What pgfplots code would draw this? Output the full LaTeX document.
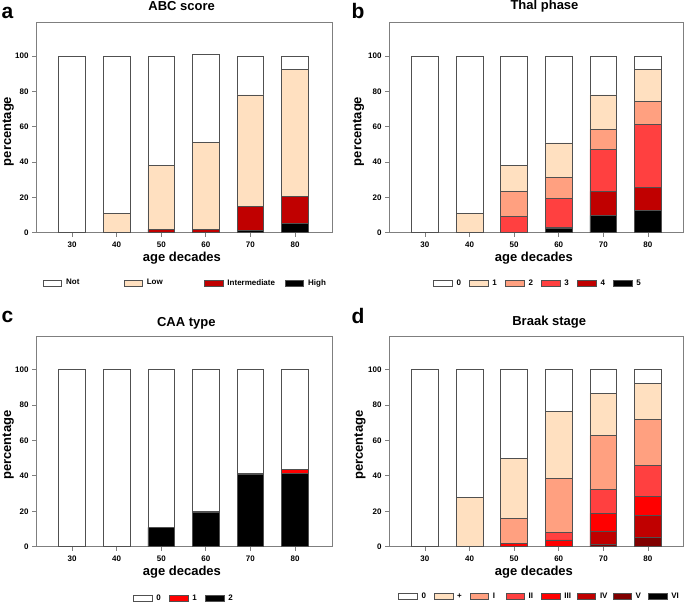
\documentclass[border=0pt]{standalone}
\usepackage{pgfplots}
\pgfplotsset{compat=1.18}
\usepackage{fontspec}
\setmainfont{Liberation Sans}
\definecolor{cBisque}{HTML}{FFE0C0}
\definecolor{cSalmon}{HTML}{FFA080}
\definecolor{cRedL}{HTML}{FF4040}
\definecolor{cRed}{HTML}{FF0000}
\definecolor{cDark}{HTML}{C00000}
\definecolor{cMaroon}{HTML}{800000}
\definecolor{framec}{HTML}{7F7F7F}
\definecolor{barline}{HTML}{505050}
\newcommand{\labfont}{\bfseries\fontsize{13}{15}\selectfont}
\pgfplotsset{
  panel/.style={
    scale only axis, width=296pt, height=210pt,
    ybar stacked, bar width=26.7pt,
    xmin=-0.81, xmax=5.83, ymin=0, ymax=119,
    xtick={0,1,2,3,4,5}, xticklabels={30,40,50,60,70,80},
    ytick={0,20,40,60,80,100},
    tick align=outside, tick pos=left, major tick length=4pt,
    axis line style={draw=framec, line width=0.8pt},
    every tick/.style={draw=framec, line width=0.8pt},
    tick label style={font=\bfseries\fontsize{8}{9}\selectfont},
    /pgf/number format/assume math mode=true,
    xticklabel style={yshift=-2pt},
    xlabel={age decades}, ylabel={percentage},
    every axis x label/.style={at={(axis description cs:0.493,-0.122)}, anchor=center, font=\labfont},
    every axis y label/.style={at={(axis description cs:-0.0936,0.482)}, anchor=center, rotate=90, font=\labfont},
    legend image code/.code={\draw[##1, line width=0.7pt] (0pt,-3pt) rectangle (18.4pt,3pt);},
    reverse legend, legend columns=-1,
    legend style={draw=none, fill=none, inner sep=0pt, outer sep=0pt,
       font=\bfseries\fontsize{8}{9}\selectfont, column sep=0pt, anchor=west,
       nodes={inner sep=0pt, text width=12.9pt, align=left},
       /tikz/every odd column/.append style={column sep=4pt}},
    every axis plot/.append style={draw=barline, line width=0.7pt},
  }
}
\begin{document}
\begin{tikzpicture}
\path[use as bounding box] (0pt,0pt) rectangle (685pt,603pt);
% ---------------- a ----------------
\begin{axis}[panel, at={(36pt,370.3pt)}, anchor=south west,
  legend style={at={(0.0236,-0.2395)}, nodes={text width=57.6pt}}]
\addplot[fill=black] coordinates {(0,0)(1,0)(2,0)(3,0)(4,1.3)(5,5.1)};
\addplot[fill=cDark] coordinates {(0,0)(1,0)(2,1.9)(3,1.7)(4,13.4)(5,15.3)};
\addplot[fill=cBisque] coordinates {(0,0)(1,10.9)(2,36.2)(3,49.4)(4,63.4)(5,72.1)};
\addplot[fill=white] coordinates {(0,100)(1,89.1)(2,61.9)(3,49.8)(4,21.9)(5,7.5)};
\legend{High,Intermediate,Low,Not}
\end{axis}
% ---------------- b ----------------
\begin{axis}[panel, at={(389pt,370.3pt)}, anchor=south west, width=294pt,
  xmin=-0.805, xmax=5.787,
  every axis y label/.style={at={(axis description cs:-0.104,0.482)}, anchor=center, rotate=90, font=\labfont},
  legend style={at={(0.151,-0.24)}}]
\addplot[fill=black] coordinates {(0,0)(1,0)(2,0)(3,2.3)(4,9.8)(5,12.8)};
\addplot[fill=cDark] coordinates {(0,0)(1,0)(2,0)(3,0.9)(4,13.6)(5,12.9)};
\addplot[fill=cRedL] coordinates {(0,0)(1,0)(2,9.1)(3,16)(4,23.8)(5,35.8)};
\addplot[fill=cSalmon] coordinates {(0,0)(1,0)(2,14.5)(3,11.9)(4,11.3)(5,12.7)};
\addplot[fill=cBisque] coordinates {(0,0)(1,10.9)(2,14.5)(3,19.8)(4,19.6)(5,18.3)};
\addplot[fill=white] coordinates {(0,100)(1,89.1)(2,61.9)(3,49.1)(4,21.9)(5,7.5)};
\legend{5,4,3,2,1,0}
\end{axis}
% ---------------- c ----------------
\begin{axis}[panel, at={(36pt,56.3pt)}, anchor=south west, height=210.7pt,
  legend style={at={(0.329,-0.245)}}]
\addplot[fill=black] coordinates {(0,0)(1,0)(2,10.9)(3,19.6)(4,40.7)(5,41.2)};
\addplot[fill=cRed] coordinates {(0,0)(1,0)(2,0)(3,0.4)(4,0.9)(5,2.5)};
\addplot[fill=white] coordinates {(0,100)(1,100)(2,89.1)(3,80)(4,58.4)(5,56.3)};
\legend{2,1,0}
\end{axis}
% ---------------- d ----------------
\begin{axis}[panel, at={(389pt,56.3pt)}, anchor=south west, width=294pt, height=210.7pt,
  xmin=-0.805, xmax=5.787,
  every axis y label/.style={at={(axis description cs:-0.099,0.482)}, anchor=center, rotate=90, font=\labfont},
  legend style={at={(0.032,-0.237)}, nodes={text width=12.6pt}}]
\addplot[fill=black] coordinates {(0,0)(1,0)(2,0)(3,0)(4,0)(5,0)};
\addplot[fill=cMaroon] coordinates {(0,0)(1,0)(2,0)(3,0)(4,1.3)(5,5.3)};
\addplot[fill=cDark] coordinates {(0,0)(1,0)(2,0)(3,0)(4,7.6)(5,12.4)};
\addplot[fill=cRed] coordinates {(0,0)(1,0)(2,1.9)(3,3.8)(4,9.9)(5,10.5)};
\addplot[fill=cRedL] coordinates {(0,0)(1,0)(2,0)(3,4.3)(4,13.6)(5,17.9)};
\addplot[fill=cSalmon] coordinates {(0,0)(1,0)(2,13.9)(3,30.5)(4,30.3)(5,25.8)};
\addplot[fill=cBisque] coordinates {(0,0)(1,27.9)(2,34.1)(3,37.9)(4,23.9)(5,20.2)};
\addplot[fill=white] coordinates {(0,100)(1,72.1)(2,50.1)(3,23.5)(4,13.4)(5,7.9)};
\legend{VI,V,IV,III,II,I,+,0}
\end{axis}
% ---------------- titles and panel letters ----------------
\begin{scope}[every node/.style={inner sep=0pt}]
\node[font=\labfont, anchor=base] at (181.7pt,592.3pt) {ABC score};
\node[font=\labfont, anchor=base] at (544.5pt,593pt) {Thal phase};
\node[font=\labfont, anchor=base] at (186.3pt,276.3pt) {CAA type};
\node[font=\labfont, anchor=base] at (549.2pt,277pt) {Braak stage};
\node[font=\bfseries\fontsize{21}{24}\selectfont, anchor=base west] at (1.5pt,584pt) {a};
\node[font=\bfseries\fontsize{21}{24}\selectfont, anchor=base west] at (351.5pt,584pt) {b};
\node[font=\bfseries\fontsize{21}{24}\selectfont, anchor=base west] at (1.5pt,280.3pt) {c};
\node[font=\bfseries\fontsize{21}{24}\selectfont, anchor=base west] at (351.5pt,279.7pt) {d};
\end{scope}
\end{tikzpicture}
\end{document}
